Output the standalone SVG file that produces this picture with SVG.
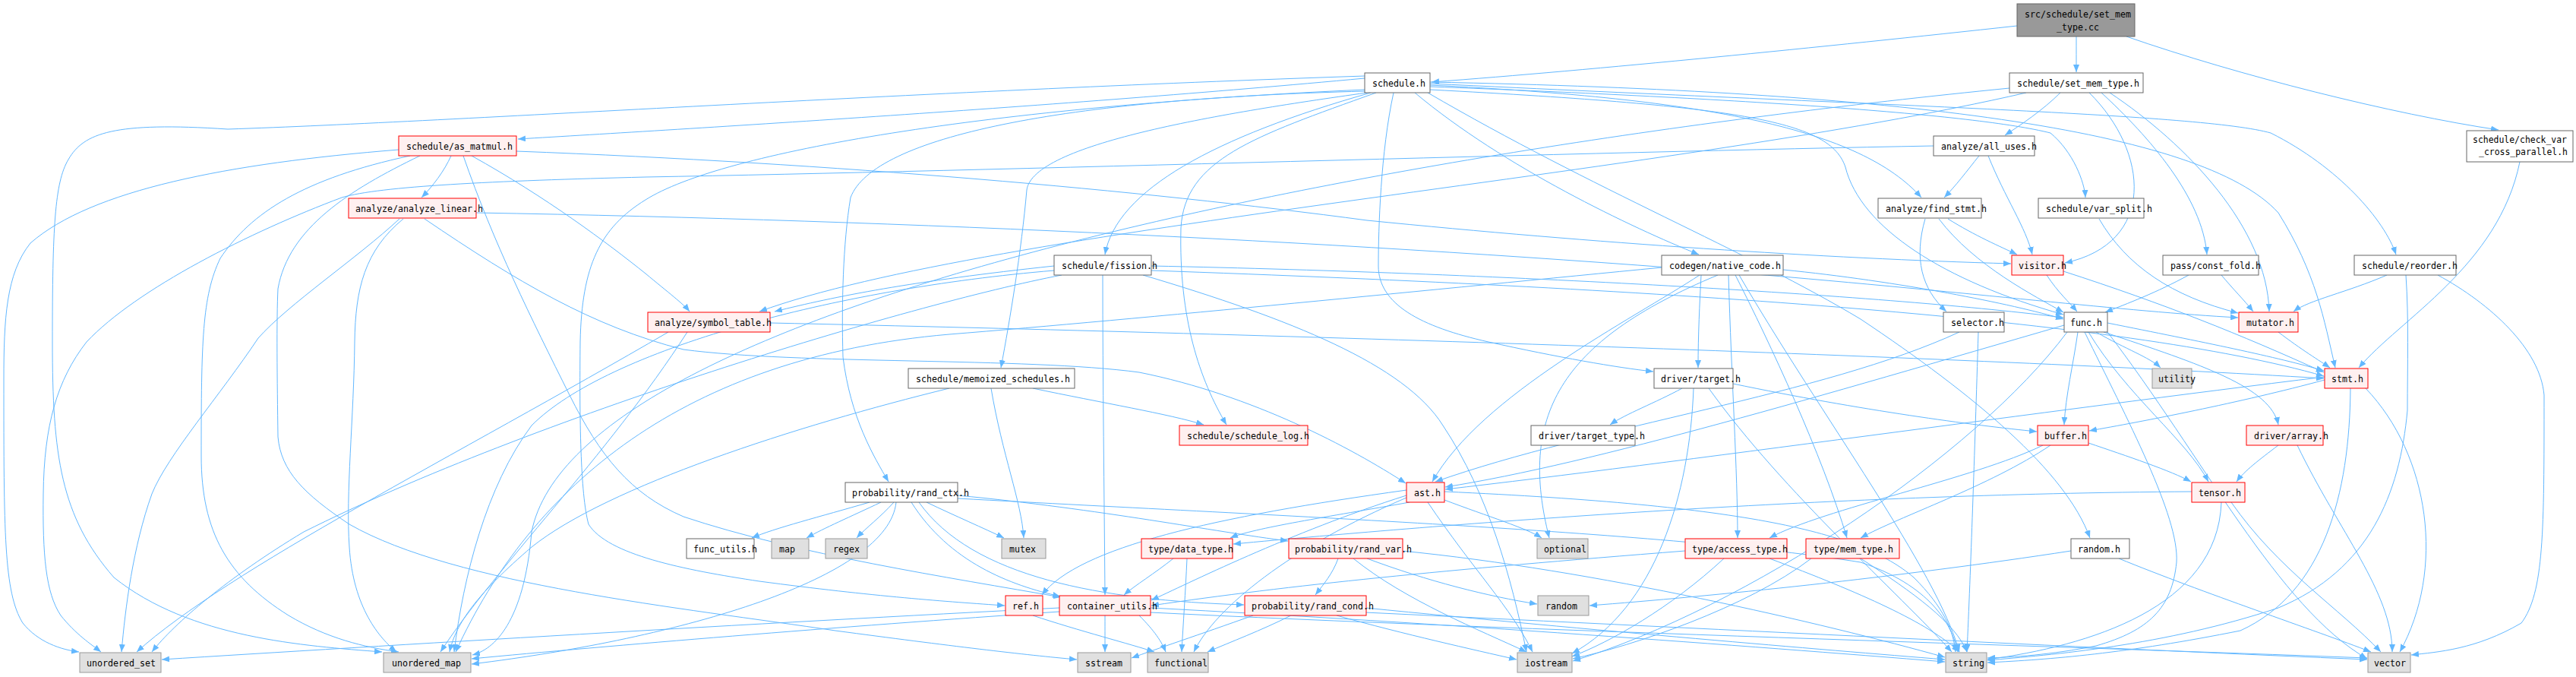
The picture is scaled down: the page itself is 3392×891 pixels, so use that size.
<svg xmlns="http://www.w3.org/2000/svg" width="3392" height="891" viewBox="0 0 3392 891">
<defs>
<marker id="a" viewBox="0 0 10 8" refX="10" refY="4" markerWidth="10" markerHeight="8" markerUnits="userSpaceOnUse" orient="auto"><path d="M0,0 L10,4 L0,8 z" fill="#63b8ff"/></marker>
<style>
.e path{fill:none;stroke:#63b8ff;stroke-width:1;marker-end:url(#a)}
.n rect{fill:#ffffff;stroke:#666666;stroke-width:1}
.r rect{fill:#fff0f0;stroke:#ff0000;stroke-width:1}
.g rect{fill:#e0e0e0;stroke:#999999;stroke-width:1}
.root rect{fill:#999999;stroke:#666666;stroke-width:1}
text{font-family:"DejaVu Sans Mono","Liberation Mono",monospace;font-size:13px;fill:#000000}
</style>
</defs>
<rect width="3392" height="891" fill="#ffffff"/>
<g id="edges" class="e">
<path d="M2656,34 C2400,62 2100,92 1885,108"/>
<path d="M2734,48 C2734,65 2734,78 2734,95"/>
<path d="M2800,48 C2950,100 3150,150 3290,171"/>
<path d="M2713,122 C2690,145 2660,165 2640,178"/>
<path d="M2668,122 C2200,230 1300,300 1000,410"/>
<path d="M2646,116 C1800,200 760,400 700,700 C690,820 650,855 622,862"/>
<path d="M2751,122 C2830,200 2840,320 2719,346"/>
<path d="M2767,122 C2830,180 2900,260 2906,335"/>
<path d="M2778,122 C2880,190 2985,300 2988,410"/>
<path d="M3318,213 C3290,350 3160,420 3106,484"/>
<path d="M1797,103 C1400,140 900,170 682,183"/>
<path d="M1797,100 C1200,120 600,160 300,170 C150,160 110,175 90,210 C72,240 69,300 69,450 C69,600 80,680 150,760 C250,840 400,850 503,858"/>
<path d="M1805,122 C1600,180 1470,250 1455,335"/>
<path d="M1800,122 C1600,150 1360,190 1352,250 C1345,330 1330,420 1318,484"/>
<path d="M1812,122 C1650,180 1560,210 1555,300 C1552,420 1580,500 1615,559"/>
<path d="M1798,120 C1400,130 1150,180 1120,260 C1110,320 1108,400 1110,470 C1120,550 1150,600 1170,634"/>
<path d="M1863,122 C1980,220 2150,300 2237,335"/>
<path d="M1835,122 C1818,200 1815,300 1815,350 C1815,400 1870,430 1960,450 C2050,470 2130,484 2177,489"/>
<path d="M1883,112 C2250,130 2450,170 2530,260"/>
<path d="M1883,114 C2300,130 2600,150 2700,175 C2730,200 2745,240 2746,260"/>
<path d="M1883,110 C2500,140 2900,150 2990,175 C3080,220 3140,290 3155,335"/>
<path d="M1883,118 C2300,140 2410,160 2430,220 C2450,300 2560,370 2717,414"/>
<path d="M1883,108 C2500,120 2900,170 3000,280 C3050,360 3060,420 3075,484"/>
<path d="M1880,122 C2100,250 2300,330 2450,420 C2600,520 2720,620 2752,708"/>
<path d="M1797,118 C1300,140 950,200 850,263 C790,300 766,350 764,450 C763,550 764,650 775,690 C800,730 900,750 1000,765 C1150,785 1250,792 1323,797"/>
<path d="M594,205 C585,225 570,245 555,260"/>
<path d="M525,197 C300,215 120,250 40,320 C8,360 5,420 5,500 C5,700 5,780 30,820 C50,845 80,855 104,858"/>
<path d="M540,205 C400,235 330,280 290,340 C266,390 265,450 265,600 C265,700 300,760 380,810 C430,840 480,852 525,858"/>
<path d="M553,205 C460,250 380,300 366,380 C364,420 365,500 366,575 C370,620 400,650 460,690 C600,770 900,800 1100,830 C1250,850 1350,862 1418,868"/>
<path d="M610,205 C650,320 700,420 750,520 C790,600 830,650 900,680 C1050,730 1250,760 1397,786"/>
<path d="M621,205 C720,260 800,320 850,360 C880,385 900,400 908,410"/>
<path d="M680,199 C1100,215 1500,250 1800,290 C2100,320 2400,340 2648,347"/>
<path d="M627,280 C1200,290 1800,320 2300,360 C2600,385 2800,410 2947,418"/>
<path d="M526,288 C470,340 380,400 340,445 C290,520 220,600 200,650 C175,720 165,800 160,858"/>
<path d="M531,288 C480,330 468,380 467,450 C466,550 455,650 460,720 C465,800 500,840 522,858"/>
<path d="M559,288 C680,370 780,430 900,460 C1050,480 1350,470 1500,490 C1650,520 1780,590 1851,636"/>
<path d="M2606,205 C2590,225 2575,245 2560,260"/>
<path d="M2618,205 C2640,260 2668,300 2676,335"/>
<path d="M2546,192 C2100,200 1300,225 850,233 C650,238 500,245 450,260 C330,305 180,380 114,450 C75,500 58,560 57,650 C56,730 60,780 80,810 C100,835 120,848 133,858"/>
<path d="M2565,288 C2600,310 2635,325 2656,335"/>
<path d="M2535,288 C2520,340 2530,380 2563,410"/>
<path d="M2553,288 C2600,350 2680,390 2717,411"/>
<path d="M2764,288 C2800,350 2860,390 2947,412"/>
<path d="M2695,362 C2710,385 2725,398 2735,410"/>
<path d="M2717,357 C2850,400 2950,440 3060,490"/>
<path d="M2882,362 C2840,385 2800,400 2772,411"/>
<path d="M2925,362 C2940,380 2955,395 2967,410"/>
<path d="M3143,362 C3090,385 3040,395 3020,410"/>
<path d="M3168,362 C3172,420 3170,480 3170,540 C3160,650 3120,750 3000,800 C2850,850 2700,862 2617,869"/>
<path d="M3210,362 C3280,400 3345,460 3350,520 C3350,700 3350,780 3320,820 C3260,855 3210,858 3175,862"/>
<path d="M2580,437 C2400,520 2100,560 1890,634"/>
<path d="M2605,437 C2600,600 2595,750 2590,858"/>
<path d="M2736,437 C2730,480 2720,520 2718,559"/>
<path d="M2760,437 C2800,460 2830,470 2845,484"/>
<path d="M2750,437 C2800,520 2880,580 2908,634"/>
<path d="M2775,425 C2900,450 3000,470 3060,488"/>
<path d="M2770,437 C2900,480 2990,510 3000,559"/>
<path d="M2745,437 C2800,550 2870,680 2866,740 C2860,800 2830,830 2760,850 C2700,862 2650,865 2617,866"/>
<path d="M2775,437 C2900,600 3000,800 3117,867"/>
<path d="M2718,428 C2400,520 2100,610 1903,641"/>
<path d="M2722,437 C2600,600 2300,800 2071,870"/>
<path d="M1360,511 C1450,530 1540,545 1585,559"/>
<path d="M1305,511 C1320,600 1345,660 1348,708"/>
<path d="M1250,511 C1050,560 800,640 700,720 C630,780 600,820 592,858"/>
<path d="M2215,511 C2180,530 2140,545 2120,559"/>
<path d="M2282,505 C2450,540 2600,560 2682,568"/>
<path d="M2230,511 C2225,650 2180,800 2070,860"/>
<path d="M2250,511 C2350,650 2500,780 2570,858"/>
<path d="M2240,362 C2238,400 2236,440 2236,484"/>
<path d="M2238,362 C2150,420 1950,520 1886,634"/>
<path d="M2188,352 C1900,380 1500,420 1250,440 C900,470 700,640 600,858"/>
<path d="M2276,362 C2280,500 2288,620 2288,708"/>
<path d="M2285,362 C2330,450 2400,600 2432,708"/>
<path d="M2290,362 C2400,550 2550,750 2580,858"/>
<path d="M2262,362 C2050,450 2000,550 2040,708"/>
<path d="M2348,355 C2500,370 2650,400 2717,420"/>
<path d="M1388,350 C1200,370 1100,390 1020,410"/>
<path d="M1452,362 C1452,500 1454,650 1455,783"/>
<path d="M1516,350 C2000,360 2500,390 2717,418"/>
<path d="M1516,356 C2200,380 2800,420 3060,495"/>
<path d="M1388,356 C1100,380 800,460 700,560 C640,640 610,760 598,858"/>
<path d="M1398,362 C1200,400 700,550 400,700 C300,760 230,820 200,858"/>
<path d="M1505,362 C1700,420 1850,480 1900,560 C1960,650 1990,760 2010,858"/>
<path d="M1014,425 C1700,440 2600,470 3060,498"/>
<path d="M905,437 C800,600 650,750 580,858"/>
<path d="M880,437 C600,600 300,750 180,858"/>
<path d="M3061,500 C2950,530 2820,555 2751,567"/>
<path d="M3061,496 C2700,540 2200,610 1903,644"/>
<path d="M3095,511 C3094,650 3060,780 2950,830 C2800,860 2700,868 2617,872"/>
<path d="M3115,511 C3200,600 3220,750 3160,858"/>
<path d="M2750,583 C2800,600 2860,620 2885,634"/>
<path d="M2690,586 C2600,630 2400,670 2330,708"/>
<path d="M2700,586 C2620,640 2500,680 2450,708"/>
<path d="M3000,586 C2975,605 2955,620 2945,634"/>
<path d="M3025,586 C3080,700 3150,780 3150,858"/>
<path d="M2886,647 C2400,650 1900,690 1624,716"/>
<path d="M2925,661 C2920,800 2750,850 2617,868"/>
<path d="M2938,661 C3000,750 3080,800 3135,858"/>
<path d="M1145,661 C1080,680 1020,695 990,708"/>
<path d="M1160,661 C1120,680 1085,695 1062,708"/>
<path d="M1177,661 C1160,680 1140,695 1128,708"/>
<path d="M1220,661 C1260,680 1295,695 1322,708"/>
<path d="M1200,661 C1250,740 1330,770 1396,785"/>
<path d="M1261,652 C1450,670 1600,700 1696,712"/>
<path d="M1210,661 C1280,760 1450,790 1638,796"/>
<path d="M1180,661 C1170,760 900,840 621,874"/>
<path d="M1261,656 C1700,680 2200,700 2450,740 C2540,770 2570,820 2578,858"/>
<path d="M1852,645 C1600,680 1420,720 1372,783"/>
<path d="M1852,652 C1700,700 1560,770 1516,790"/>
<path d="M1856,661 C1750,680 1650,695 1620,708"/>
<path d="M1880,661 C1940,750 1990,800 2018,858"/>
<path d="M1902,658 C1960,680 2010,695 2030,708"/>
<path d="M1902,647 C2300,665 2450,700 2520,760 C2560,800 2572,830 2575,858"/>
<path d="M1852,655 C1700,720 1600,800 1572,858"/>
<path d="M1545,735 C1520,755 1495,770 1480,783"/>
<path d="M1563,735 C1561,780 1558,820 1556,858"/>
<path d="M1762,735 C1755,755 1742,770 1732,783"/>
<path d="M1782,735 C1850,790 1950,830 2010,858"/>
<path d="M1800,735 C1880,765 1960,785 2024,795"/>
<path d="M1846,725 C2100,750 2400,820 2561,865"/>
<path d="M1700,810 C1660,830 1620,845 1590,858"/>
<path d="M1760,810 C1850,835 1940,855 1997,868"/>
<path d="M1798,800 C2100,830 2400,855 2561,868"/>
<path d="M1798,806 C2300,830 2800,855 3117,868"/>
<path d="M1650,810 C1580,835 1520,855 1490,866"/>
<path d="M2270,735 C2200,800 2120,845 2070,864"/>
<path d="M2330,735 C2450,780 2540,820 2580,858"/>
<path d="M2219,725 C1900,750 1700,770 1516,797"/>
<path d="M2385,735 C2300,800 2150,850 2071,867"/>
<path d="M2450,735 C2520,780 2575,820 2590,858"/>
<path d="M2727,725 C2500,760 2250,785 2093,797"/>
<path d="M2790,735 C2900,780 3050,830 3122,858"/>
<path d="M1455,810 C1455,830 1455,845 1455,858"/>
<path d="M1395,800 C1000,820 500,850 213,868"/>
<path d="M1395,805 C1100,825 800,850 621,867"/>
<path d="M1515,800 C1900,820 2300,850 2561,871"/>
<path d="M1515,806 C2000,830 2700,850 3117,866"/>
<path d="M1500,810 C1520,830 1530,845 1535,858"/>
<path d="M1360,810 C1420,830 1490,848 1520,858"/>
<path d="M3000,437 C3030,460 3055,475 3068,484"/>
</g>
<g id="n_set_mem_type_cc" class="root"><rect x="2656" y="5" width="155" height="43"/><text x="2666" y="23" textLength="140" lengthAdjust="spacingAndGlyphs">src/schedule/set_mem</text><text x="2708" y="40" textLength="56" lengthAdjust="spacingAndGlyphs">_type.cc</text></g>
<g id="n_schedule_h" class="n"><rect x="1797" y="96" width="86" height="26"/><text x="1807" y="113.5" textLength="70" lengthAdjust="spacingAndGlyphs">schedule.h</text></g>
<g id="n_set_mem_type_h" class="n"><rect x="2646" y="96" width="176" height="26"/><text x="2656" y="113.5" textLength="161" lengthAdjust="spacingAndGlyphs">schedule/set_mem_type.h</text></g>
<g id="n_as_matmul" class="r"><rect x="525" y="179" width="155" height="26"/><text x="535" y="196.5" textLength="140" lengthAdjust="spacingAndGlyphs">schedule/as_matmul.h</text></g>
<g id="n_all_uses" class="n"><rect x="2546" y="179" width="133" height="26"/><text x="2556" y="196.5" textLength="126" lengthAdjust="spacingAndGlyphs">analyze/all_uses.h</text></g>
<g id="n_check_var" class="n"><rect x="3248" y="172" width="140" height="41"/><text x="3256" y="188" textLength="124" lengthAdjust="spacingAndGlyphs">schedule/check_var</text><text x="3264" y="204" textLength="117" lengthAdjust="spacingAndGlyphs">_cross_parallel.h</text></g>
<g id="n_analyze_linear" class="r"><rect x="459" y="261" width="168" height="26"/><text x="468" y="278.5" textLength="168" lengthAdjust="spacingAndGlyphs">analyze/analyze_linear.h</text></g>
<g id="n_find_stmt" class="n"><rect x="2473" y="261" width="136" height="26"/><text x="2483" y="278.5" textLength="133" lengthAdjust="spacingAndGlyphs">analyze/find_stmt.h</text></g>
<g id="n_var_split" class="n"><rect x="2684" y="261" width="139" height="26"/><text x="2694" y="278.5" textLength="140" lengthAdjust="spacingAndGlyphs">schedule/var_split.h</text></g>
<g id="n_fission" class="n"><rect x="1388" y="336" width="128" height="26"/><text x="1398" y="353.5" textLength="126" lengthAdjust="spacingAndGlyphs">schedule/fission.h</text></g>
<g id="n_native_code" class="n"><rect x="2188" y="336" width="160" height="26"/><text x="2198" y="353.5" textLength="147" lengthAdjust="spacingAndGlyphs">codegen/native_code.h</text></g>
<g id="n_visitor" class="r"><rect x="2649" y="336" width="68" height="26"/><text x="2658" y="353.5" textLength="63" lengthAdjust="spacingAndGlyphs">visitor.h</text></g>
<g id="n_const_fold" class="n"><rect x="2848" y="336" width="126" height="26"/><text x="2858" y="353.5" textLength="119" lengthAdjust="spacingAndGlyphs">pass/const_fold.h</text></g>
<g id="n_reorder" class="n"><rect x="3100" y="336" width="134" height="26"/><text x="3110" y="353.5" textLength="126" lengthAdjust="spacingAndGlyphs">schedule/reorder.h</text></g>
<g id="n_symbol_table" class="r"><rect x="853" y="411" width="161" height="26"/><text x="862" y="428.5" textLength="154" lengthAdjust="spacingAndGlyphs">analyze/symbol_table.h</text></g>
<g id="n_selector" class="n"><rect x="2559" y="411" width="80" height="26"/><text x="2569" y="428.5" textLength="70" lengthAdjust="spacingAndGlyphs">selector.h</text></g>
<g id="n_func" class="n"><rect x="2718" y="411" width="57" height="26"/><text x="2726" y="428.5" textLength="42" lengthAdjust="spacingAndGlyphs">func.h</text></g>
<g id="n_mutator" class="r"><rect x="2948" y="411" width="78" height="26"/><text x="2958" y="428.5" textLength="63" lengthAdjust="spacingAndGlyphs">mutator.h</text></g>
<g id="n_memoized" class="n"><rect x="1196" y="485" width="219" height="26"/><text x="1206" y="502.5" textLength="203" lengthAdjust="spacingAndGlyphs">schedule/memoized_schedules.h</text></g>
<g id="n_target" class="n"><rect x="2178" y="485" width="104" height="26"/><text x="2187" y="502.5" textLength="105" lengthAdjust="spacingAndGlyphs">driver/target.h</text></g>
<g id="n_utility" class="g"><rect x="2834" y="485" width="52" height="26"/><text x="2842" y="502.5" textLength="49" lengthAdjust="spacingAndGlyphs">utility</text></g>
<g id="n_stmt" class="r"><rect x="3061" y="485" width="57" height="26"/><text x="3070" y="502.5" textLength="42" lengthAdjust="spacingAndGlyphs">stmt.h</text></g>
<g id="n_schedule_log" class="r"><rect x="1553" y="560" width="169" height="26"/><text x="1563" y="577.5" textLength="161" lengthAdjust="spacingAndGlyphs">schedule/schedule_log.h</text></g>
<g id="n_target_type" class="n"><rect x="2016" y="560" width="137" height="26"/><text x="2026" y="577.5" textLength="140" lengthAdjust="spacingAndGlyphs">driver/target_type.h</text></g>
<g id="n_buffer" class="r"><rect x="2683" y="560" width="67" height="26"/><text x="2692" y="577.5" textLength="56" lengthAdjust="spacingAndGlyphs">buffer.h</text></g>
<g id="n_array" class="r"><rect x="2958" y="560" width="101" height="26"/><text x="2968" y="577.5" textLength="98" lengthAdjust="spacingAndGlyphs">driver/array.h</text></g>
<g id="n_rand_ctx" class="n"><rect x="1113" y="635" width="148" height="26"/><text x="1122" y="652.5" textLength="154" lengthAdjust="spacingAndGlyphs">probability/rand_ctx.h</text></g>
<g id="n_ast" class="r"><rect x="1852" y="635" width="50" height="26"/><text x="1862" y="652.5" textLength="35" lengthAdjust="spacingAndGlyphs">ast.h</text></g>
<g id="n_tensor" class="r"><rect x="2886" y="635" width="70" height="26"/><text x="2895" y="652.5" textLength="56" lengthAdjust="spacingAndGlyphs">tensor.h</text></g>
<g id="n_func_utils" class="n"><rect x="904" y="709" width="89" height="26"/><text x="913" y="726.5" textLength="84" lengthAdjust="spacingAndGlyphs">func_utils.h</text></g>
<g id="n_map" class="g"><rect x="1016" y="709" width="49" height="26"/><text x="1026" y="726.5" textLength="21" lengthAdjust="spacingAndGlyphs">map</text></g>
<g id="n_regex" class="g"><rect x="1087" y="709" width="55" height="26"/><text x="1097" y="726.5" textLength="35" lengthAdjust="spacingAndGlyphs">regex</text></g>
<g id="n_mutex" class="g"><rect x="1319" y="709" width="58" height="26"/><text x="1329" y="726.5" textLength="35" lengthAdjust="spacingAndGlyphs">mutex</text></g>
<g id="n_data_type" class="r"><rect x="1503" y="709" width="120" height="26"/><text x="1512" y="726.5" textLength="112" lengthAdjust="spacingAndGlyphs">type/data_type.h</text></g>
<g id="n_rand_var" class="r"><rect x="1697" y="709" width="150" height="26"/><text x="1705" y="726.5" textLength="154" lengthAdjust="spacingAndGlyphs">probability/rand_var.h</text></g>
<g id="n_optional" class="g"><rect x="2024" y="709" width="67" height="26"/><text x="2033" y="726.5" textLength="56" lengthAdjust="spacingAndGlyphs">optional</text></g>
<g id="n_access_type" class="r"><rect x="2219" y="709" width="134" height="26"/><text x="2228" y="726.5" textLength="126" lengthAdjust="spacingAndGlyphs">type/access_type.h</text></g>
<g id="n_mem_type" class="r"><rect x="2378" y="709" width="123" height="26"/><text x="2388" y="726.5" textLength="105" lengthAdjust="spacingAndGlyphs">type/mem_type.h</text></g>
<g id="n_random_h" class="n"><rect x="2727" y="709" width="77" height="26"/><text x="2736" y="726.5" textLength="56" lengthAdjust="spacingAndGlyphs">random.h</text></g>
<g id="n_ref" class="r"><rect x="1324" y="784" width="49" height="26"/><text x="1333" y="801.5" textLength="35" lengthAdjust="spacingAndGlyphs">ref.h</text></g>
<g id="n_container_utils" class="r"><rect x="1395" y="784" width="120" height="26"/><text x="1405" y="801.5" textLength="119" lengthAdjust="spacingAndGlyphs">container_utils.h</text></g>
<g id="n_rand_cond" class="r"><rect x="1639" y="784" width="160" height="26"/><text x="1648" y="801.5" textLength="161" lengthAdjust="spacingAndGlyphs">probability/rand_cond.h</text></g>
<g id="n_random" class="g"><rect x="2025" y="784" width="67" height="26"/><text x="2035" y="801.5" textLength="42" lengthAdjust="spacingAndGlyphs">random</text></g>
<g id="n_unordered_set" class="g"><rect x="105" y="859" width="107" height="26"/><text x="114" y="876.5" textLength="91" lengthAdjust="spacingAndGlyphs">unordered_set</text></g>
<g id="n_unordered_map" class="g"><rect x="505" y="859" width="115" height="26"/><text x="516" y="876.5" textLength="91" lengthAdjust="spacingAndGlyphs">unordered_map</text></g>
<g id="n_sstream" class="g"><rect x="1419" y="859" width="70" height="26"/><text x="1429" y="876.5" textLength="49" lengthAdjust="spacingAndGlyphs">sstream</text></g>
<g id="n_functional" class="g"><rect x="1511" y="859" width="80" height="26"/><text x="1520" y="876.5" textLength="70" lengthAdjust="spacingAndGlyphs">functional</text></g>
<g id="n_iostream" class="g"><rect x="1998" y="859" width="72" height="26"/><text x="2008" y="876.5" textLength="56" lengthAdjust="spacingAndGlyphs">iostream</text></g>
<g id="n_string" class="g"><rect x="2562" y="859" width="54" height="26"/><text x="2571" y="876.5" textLength="42" lengthAdjust="spacingAndGlyphs">string</text></g>
<g id="n_vector" class="g"><rect x="3118" y="859" width="56" height="26"/><text x="3126" y="876.5" textLength="42" lengthAdjust="spacingAndGlyphs">vector</text></g>
</svg>
